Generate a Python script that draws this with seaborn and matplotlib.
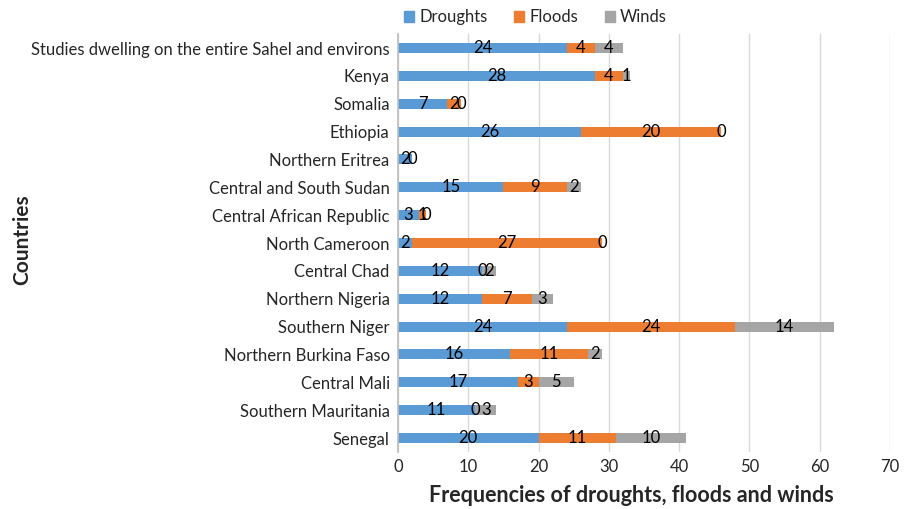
import numpy as np
import pandas as pd
import matplotlib
matplotlib.use("Agg")
import matplotlib.pyplot as plt
import seaborn as sns

countries = [
    "Studies dwelling on the entire Sahel and environs",
    "Kenya",
    "Somalia",
    "Ethiopia",
    "Northern Eritrea",
    "Central and South Sudan",
    "Central African Republic",
    "North Cameroon",
    "Central Chad",
    "Northern Nigeria",
    "Southern Niger",
    "Northern Burkina Faso",
    "Central Mali",
    "Southern Mauritania",
    "Senegal",
]
droughts = [24, 28, 7, 26, 2, 15, 3, 2, 12, 12, 24, 16, 17, 11, 20]
floods = [4, 4, 2, 20, 0, 9, 1, 27, 0, 7, 24, 11, 3, 0, 11]
winds = [4, 1, 0, 0, None, 2, 0, 0, 2, 3, 14, 2, 5, 3, 10]
series_names = ["Droughts", "Floods", "Winds"]
series_colors = ["#5B9BD5", "#ED7D31", "#A5A5A5"]
x_ticks = [0, 10, 20, 30, 40, 50, 60, 70]

sns.set_theme(style="white")
plt.rcParams["font.family"] = ["Lato", "DejaVu Sans"]

df = pd.DataFrame({"country": countries, "Droughts": droughts,
                   "Floods": floods, "Winds": winds})
w = df["Winds"].astype(float)
df["c1"] = df["Droughts"]
df["c2"] = df["Droughts"] + df["Floods"]
df["c3"] = df["c2"] + w.fillna(0)

fig = plt.figure(figsize=(9.15, 5.09), dpi=100)
ax = fig.add_axes([0.435, 0.112, 0.5377, 0.821])

# stacked bars: draw cumulative totals back to front
for col, color in zip(["c3", "c2", "c1"], series_colors[::-1]):
    sns.barplot(data=df, y="country", x=col, orient="h", color=color,
                width=0.36, saturation=1, linewidth=0, ax=ax, zorder=3)

# segment labels centred in each piece
for i, row in df.iterrows():
    starts = [0, row["c1"], row["c2"]]
    vals = [row["Droughts"], row["Floods"], w[i]]
    for s, v in zip(starts, vals):
        if pd.isna(v):
            continue
        ax.text(s + v / 2, i, f"{int(v)}", ha="center", va="center",
                fontsize=12, color="#000000", zorder=5)

ax.set_xlim(0, 70)
ax.set_xticks(x_ticks)
ax.set_xticklabels([str(t) for t in x_ticks], fontsize=12)
ax.tick_params(axis="y", labelsize=12, length=0, pad=6)
ax.tick_params(axis="x", length=0, pad=5)
ax.grid(axis="x", color="#D9D9D9", linewidth=1, zorder=0)
for sp in ["top", "right", "bottom"]:
    ax.spines[sp].set_visible(False)
ax.spines["left"].set_color("#BFBFBF")
ax.spines["left"].set_zorder(4)

ax.set_ylabel("")
ax.set_xlabel("")
fig.text(22 / 915, 1 - 240 / 509, "Countries", rotation=90, ha="center",
         va="center", fontsize=15, fontweight="bold")
fig.text(631 / 915, 1 - 495 / 509, "Frequencies of droughts, floods and winds",
         ha="center", va="center", fontsize=15.5, fontweight="bold")

handles = [plt.Rectangle((0, 0), 1, 1, color=c) for c in series_colors]
fig.legend(handles, series_names, loc="center", bbox_to_anchor=(0.585, 0.966),
           ncol=3, frameon=False, fontsize=12, handlelength=0.6,
           handleheight=0.6, handletextpad=0.3, columnspacing=1.6)

fig.savefig("out.png", dpi=100)
